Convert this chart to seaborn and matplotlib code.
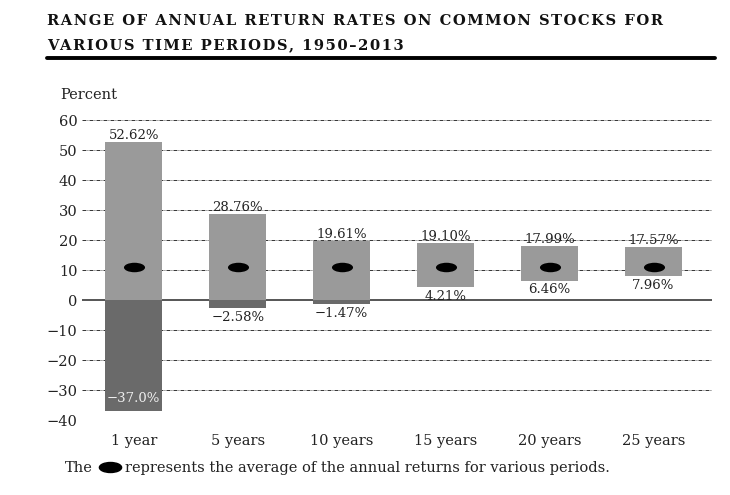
import numpy as np
import matplotlib
matplotlib.use('Agg')
import matplotlib.pyplot as plt
from matplotlib.path import Path
from matplotlib.transforms import Affine2D
import seaborn as sns

periods = ['1 year', '5 years', '10 years', '15 years', '20 years', '25 years']
high = [52.62, 28.76, 19.61, 19.10, 17.99, 17.57]
low = [-37.0, -2.58, -1.47, 4.21, 6.46, 7.96]
average = [11.0, 11.0, 11.0, 11.0, 11.0, 11.0]
high_labels = ['52.62%', '28.76%', '19.61%', '19.10%', '17.99%', '17.57%']
low_labels = ['\u221237.0%', '\u22122.58%', '\u22121.47%', '4.21%', '6.46%', '7.96%']
yticks = [-40, -30, -20, -10, 0, 10, 20, 30, 40, 50, 60]

sns.set_theme(style='white')
plt.rcParams['font.family'] = ['DejaVu Serif']

light = '#9a9a9a'
dark = '#6a6a6a'
pos = np.arange(len(periods))
high = np.array(high)
low = np.array(low)
base = np.where(low > 0, low, 0)
neg = np.where(low < 0, low, 0)

fig = plt.figure(figsize=(7.3, 4.95), dpi=100)
ax = fig.add_axes([0.112, 0.1515, 0.863, 0.606])

# negative part of the range (darker)
sns.barplot(x=periods, y=neg, color=dark, saturation=1, width=0.55, ax=ax, zorder=3,
            linewidth=0, edgecolor='none')
# positive part of the range
ax.bar(pos, high - base, bottom=base, width=0.55, color=light, zorder=3, linewidth=0)

# average markers as flat ellipses
ell = Path.unit_circle().transformed(Affine2D().scale(1, 0.45))
ax.scatter(pos, average, marker=ell, s=230, color='black', zorder=5, linewidths=0)

for i in range(len(periods)):
    ax.annotate(high_labels[i], (pos[i], high[i]), xytext=(0, 0), textcoords='offset points',
                ha='center', va='bottom', fontsize=9.5, color='#222222', zorder=6)
    if low[i] < -20:
        ax.annotate(low_labels[i], (pos[i], low[i]), xytext=(0, 4), textcoords='offset points',
                    ha='center', va='bottom', fontsize=9.5, color='#eeeeee', zorder=6)
    else:
        ax.annotate(low_labels[i], (pos[i], low[i]), xytext=(0, -2), textcoords='offset points',
                    ha='center', va='top', fontsize=9.5, color='#222222', zorder=6)

for t in yticks:
    if t == 0:
        ax.axhline(0, color='#555555', linewidth=1.4, zorder=2)
    else:
        ax.axhline(t, color='#333333', linewidth=0.7, linestyle=(0, (4, 1.2, 0.8, 1.2)), zorder=1)

ax.set_xlim(-0.5, 5.56)
ax.set_ylim(-40, 60)
ax.set_yticks(yticks)
ax.set_xticks(pos)
ax.set_xticklabels(periods)
ax.tick_params(axis='y', length=0, pad=3, labelsize=10.5, colors='#222222')
ax.tick_params(axis='x', length=0, pad=10, labelsize=10.5, colors='#222222')
ax.set_xlabel('')
ax.set_ylabel('')
for s in ax.spines.values():
    s.set_visible(False)

# title block
title1 = 'RANGE OF ANNUAL RETURN RATES ON COMMON STOCKS FOR'
title2 = 'VARIOUS TIME PERIODS, 1950\u20132013'
spaced = lambda s: '\u200a'.join(s)
fig.text(47 / 730, 1 - 21 / 495, spaced(title1), fontsize=10.6, fontweight='heavy',
         ha='left', va='center', color='#111111')
fig.text(47 / 730, 1 - 45 / 495, spaced(title2), fontsize=10.6, fontweight='heavy',
         ha='left', va='center', color='#111111')
fig.add_artist(plt.Line2D([47 / 730, 715 / 730], [1 - 58 / 495, 1 - 58 / 495],
                          color='black', linewidth=2.8, transform=fig.transFigure))

fig.text(60 / 730, 1 - 95 / 495, 'Percent', fontsize=10.5, ha='left', va='center', color='#222222')

# footnote
fig.text(65 / 730, 1 - 468 / 495, 'The', fontsize=10.5, ha='left', va='center', color='#222222')
fig.add_artist(plt.Line2D([110 / 730], [1 - 467 / 495], marker=ell, markersize=16,
                          color='black', linestyle='none', transform=fig.transFigure))
fig.text(125 / 730, 1 - 468 / 495, 'represents the average of the annual returns for various periods.',
         fontsize=10.5, ha='left', va='center', color='#222222')

fig.savefig('out.png', dpi=100)
